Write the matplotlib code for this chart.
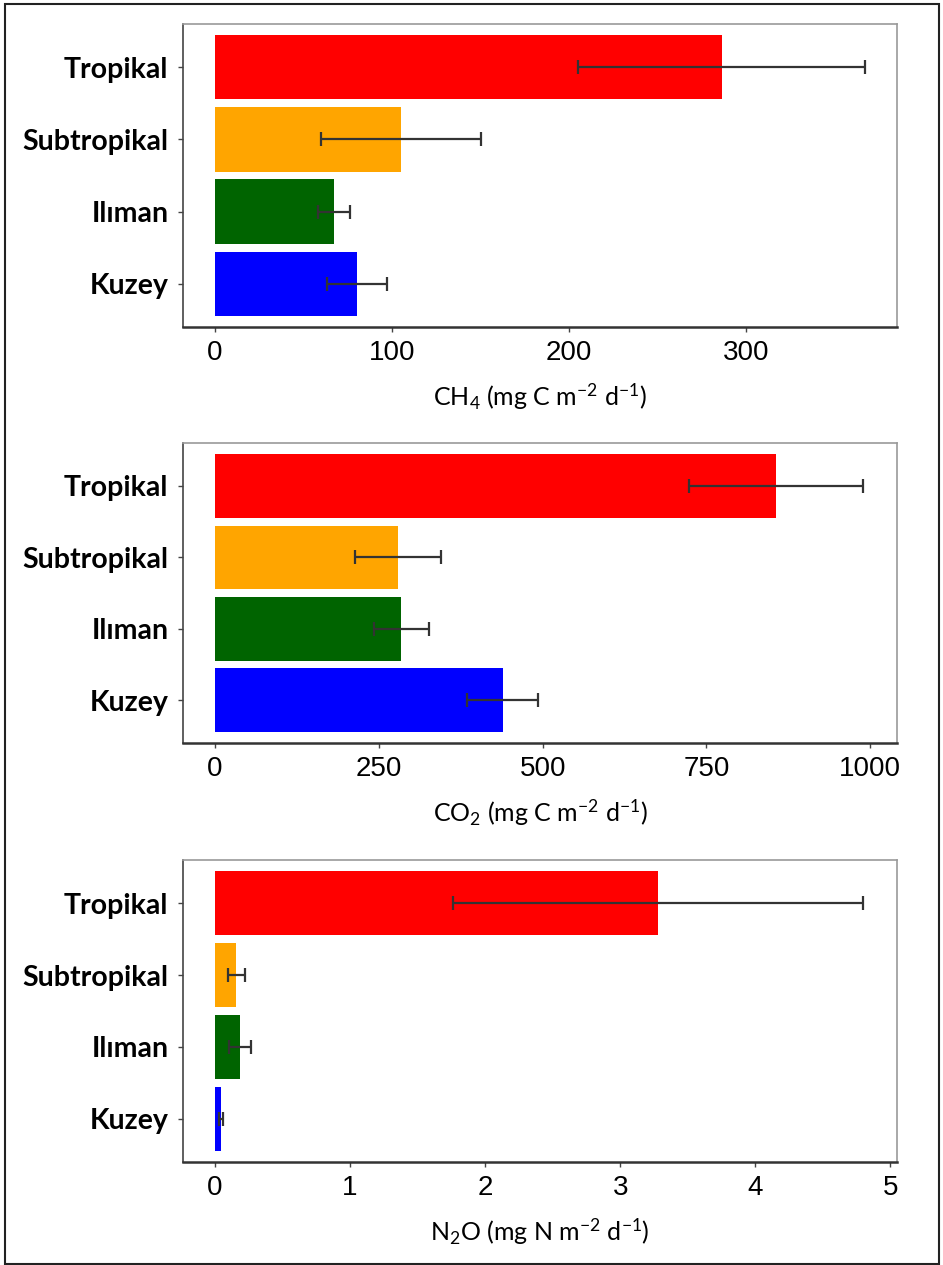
import matplotlib
matplotlib.use("Agg")
import matplotlib.pyplot as plt
from matplotlib.patches import Rectangle
import numpy as np

plt.rcParams['font.family'] = ['Lato', 'DejaVu Sans']
plt.rcParams['mathtext.fontset'] = 'custom'
plt.rcParams['mathtext.rm'] = 'Lato'
plt.rcParams['mathtext.it'] = 'Lato:italic'
plt.rcParams['mathtext.bf'] = 'Lato:bold'

categories = ["Tropikal", "Subtropikal", "Ilıman", "Kuzey"]
colors = ["#FF0000", "#FFA500", "#006400", "#0000FF"]

ch4_mean = [286, 105, 67, 80]
ch4_err = [81, 45, 9, 17]
co2_mean = [856, 279, 284, 439]
co2_err = [133, 66, 42, 54]
n2o_mean = [3.28, 0.158, 0.185, 0.047]
n2o_err = [1.52, 0.063, 0.08, 0.015]

ch4_ticks = [0, 100, 200, 300]
co2_ticks = [0, 250, 500, 750, 1000]
n2o_ticks = [0, 1, 2, 3, 4, 5]

ch4_label = r"CH$_4$ (mg C m$^{-2}$ d$^{-1}$)"
co2_label = r"CO$_2$ (mg C m$^{-2}$ d$^{-1}$)"
n2o_label = r"N$_2$O (mg N m$^{-2}$ d$^{-1}$)"

W, H = 943, 1265
fig = plt.figure(figsize=(W / 100, H / 100), dpi=100)
fig.patch.set_facecolor("white")

panels = [
    (ch4_mean, ch4_err, ch4_ticks, ch4_label, (-18, 385), 24, 327),
    (co2_mean, co2_err, co2_ticks, co2_label, (-49, 1041), 443, 743),
    (n2o_mean, n2o_err, n2o_ticks, n2o_label, (-0.237, 5.05), 860, 1162),
]

left_px, right_px = 183, 897
for mean, err, ticks, xlabel, xlim, top_px, bot_px in panels:
    ax = fig.add_axes([left_px / W, 1 - bot_px / H, (right_px - left_px) / W, (bot_px - top_px) / H])
    y = np.arange(len(categories))
    ax.barh(y, mean, height=0.89, color=colors, edgecolor="none", zorder=2)
    ax.errorbar(mean, y, xerr=err, fmt="none", ecolor="#333333", elinewidth=1.6,
                capsize=5, capthick=1.6, zorder=3)
    ax.set_ylim(3.6, -0.6)
    ax.set_xlim(*xlim)
    ax.set_yticks(y)
    ax.set_yticklabels(categories, fontsize=20.5, fontweight="bold", color="black")
    ax.set_xticks(ticks)
    ax.set_xticklabels([str(t) for t in ticks], fontsize=20, family="Liberation Sans", color="black")
    ax.tick_params(axis="both", length=3.5, width=1.0, color="#444444")
    ax.tick_params(axis="y", pad=7)
    ax.tick_params(axis="x", pad=6)
    ax.set_xlabel(xlabel, fontsize=18, labelpad=11)
    for s in ["top", "right"]:
        ax.spines[s].set_color("#999999")
        ax.spines[s].set_linewidth(1.2)
    ax.spines["left"].set_color("#444444")
    ax.spines["left"].set_linewidth(1.2)
    ax.spines["bottom"].set_color("#333333")
    ax.spines["bottom"].set_linewidth(1.8)

fig.patches.append(Rectangle((5 / W, 1 / H), (939 - 5) / W, (1263 - 3) / H, transform=fig.transFigure,
                             fill=False, edgecolor="#222222", linewidth=1.5))

fig.savefig("out.png", dpi=100)
